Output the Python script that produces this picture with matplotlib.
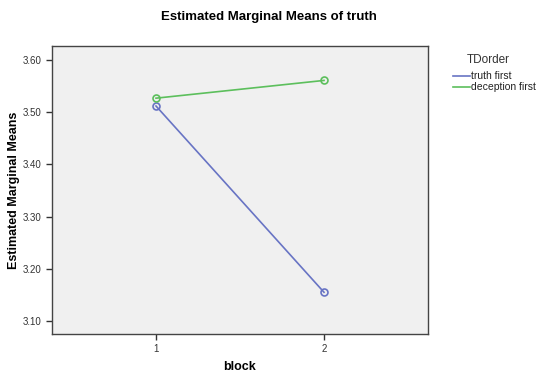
import matplotlib.pyplot as plt
from matplotlib.lines import Line2D

plt.rcParams['font.family'] = ['Liberation Sans', 'DejaVu Sans']

# data
blocks = [1, 2]
truth_first = [3.512, 3.155]
deception_first = [3.527, 3.561]
yticks = [3.10, 3.20, 3.30, 3.40, 3.50, 3.60]

blue = '#6874c4'
green = '#5cbf5c'

fig = plt.figure(figsize=(5.38, 3.76), dpi=100)
ax = fig.add_axes([52 / 538, 1 - 334 / 376, 376 / 538, 288 / 376])
ax.set_facecolor('#f0f0f0')

ax.plot(blocks, truth_first, color=blue, lw=1.2, marker='o', ms=5,
        mfc='none', mec=blue, mew=1.2)
ax.plot(blocks, deception_first, color=green, lw=1.2, marker='o', ms=5,
        mfc='none', mec=green, mew=1.2)

ax.set_xlim(0.381, 2.619)
ax.set_ylim(3.075, 3.627)
ax.set_xticks(blocks)
ax.set_yticks(yticks)
ax.set_yticklabels(['%.2f' % v for v in yticks])
ax.tick_params(labelsize=7, length=4, width=1, color='#333333', labelcolor='#333333')
for s in ax.spines.values():
    s.set_color('#444444')
    s.set_linewidth(1)

ax.set_xlabel('block', fontsize=9, fontweight='bold', labelpad=5)
ax.set_ylabel('Estimated Marginal Means', fontsize=9, fontweight='bold', labelpad=2)
fig.text(269 / 538, 1 - 17 / 376, 'Estimated Marginal Means of truth',
         ha='center', va='center', fontsize=9.5, fontweight='bold')

# legend
fig.text(488 / 538, 1 - 60 / 376, 'TDorder', ha='center', va='center',
         fontsize=8.5, color='#333333')
labels = ['truth first', 'deception first']
for i, (lab, c) in enumerate(zip(labels, [blue, green])):
    y = 1 - (76 + 11 * i) / 376
    fig.add_artist(Line2D([453 / 538, 470 / 538], [y, y], color=c, lw=1.2))
    fig.text(471 / 538, y, lab, ha='left', va='center', fontsize=7.5, color='#222222')

fig.savefig('out.png', dpi=100)
